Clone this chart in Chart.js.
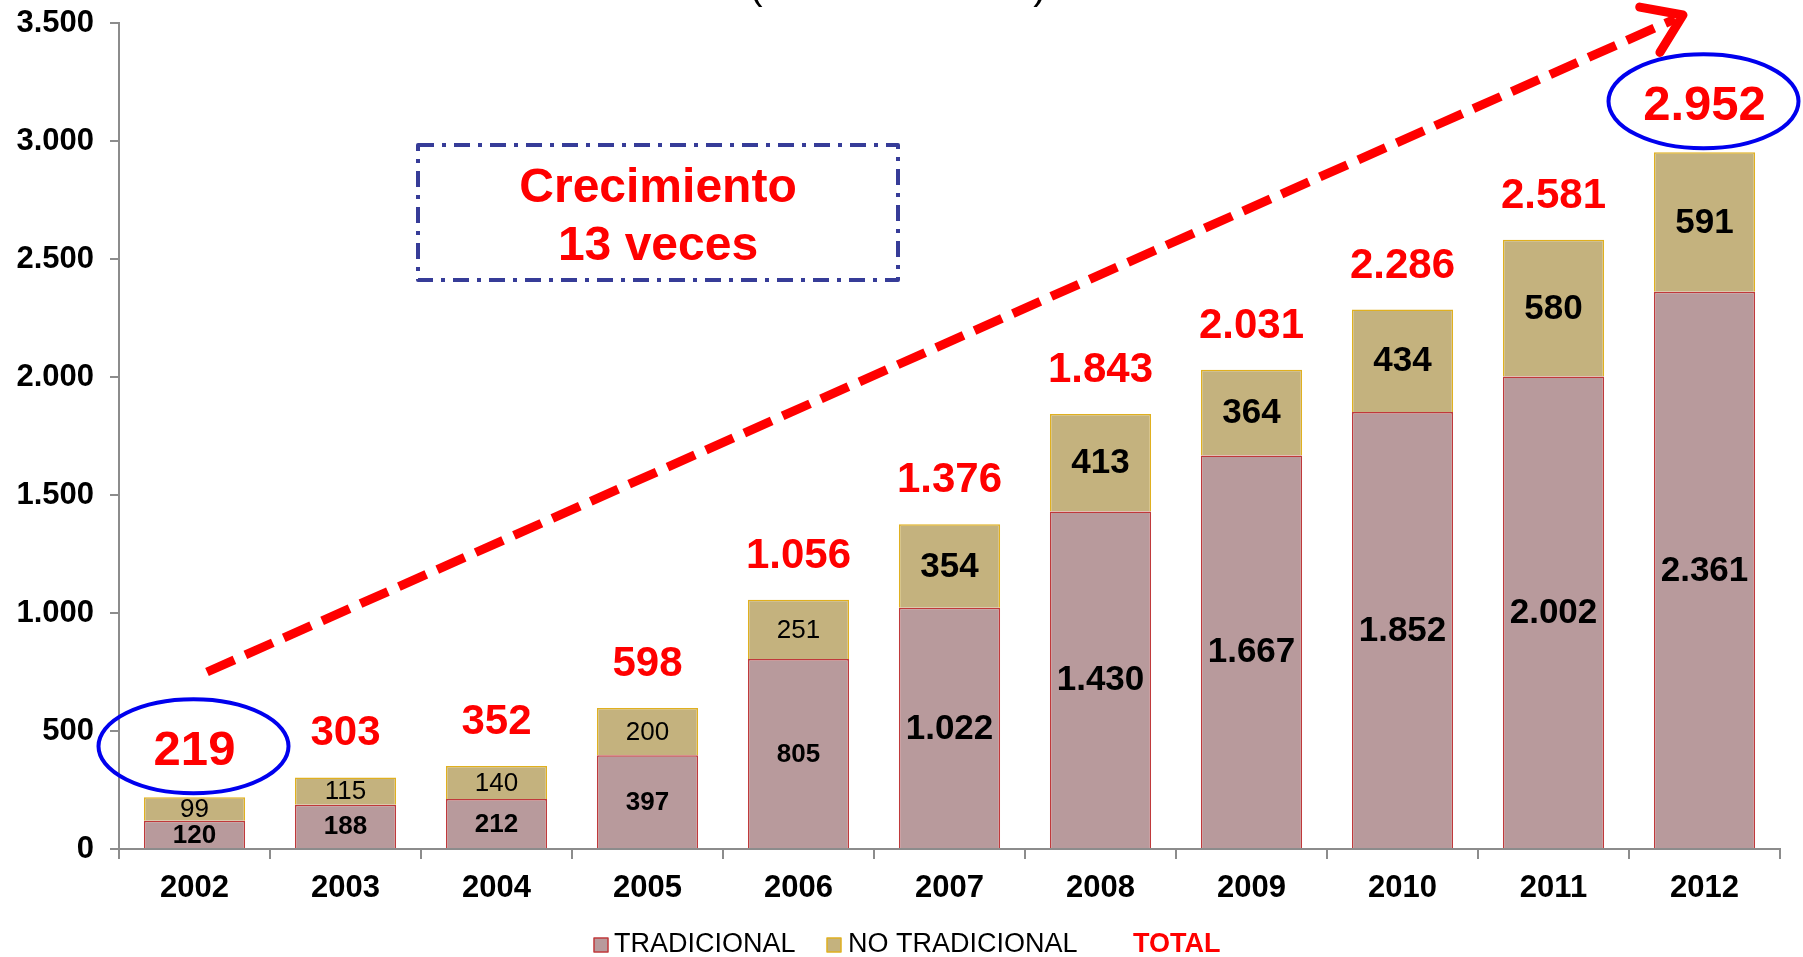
<!DOCTYPE html>
<html><head><meta charset="utf-8">
<script src="https://cdn.jsdelivr.net/npm/chart.js@4/dist/chart.umd.min.js"></script>
<style>html,body{margin:0;padding:0;background:#fff;}#wrap{width:1803px;height:957px;}</style>
</head><body><div id="wrap"><canvas id="c" width="1803" height="957"></canvas></div>
<script>
const years = ['2002','2003','2004','2005','2006','2007','2008','2009','2010','2011','2012'];
const tradicional = [120,188,212,397,805,1022,1430,1667,1852,2002,2361];
const noTradicional = [99,115,140,200,251,354,413,364,434,580,591];
const totals = [219,303,352,598,1056,1376,1843,2031,2286,2581,2952];
const yTicks = [0,500,1000,1500,2000,2500,3000,3500];
const seriesNames = ['TRADICIONAL','NO TRADICIONAL','TOTAL'];
const highlighted = [0,10];
const noteLines = ['Crecimiento','13 veces'];

const FONT = '"Liberation Sans", Arial, sans-serif';
const fmt = n => String(n).replace(/\B(?=(\d{3})+(?!\d))/g, '.');
const C_TRAD = '#B89A9C', C_TRAD_B = '#C0393B';
const C_NT = '#C4B27E', C_NT_B = '#E0B020';
const AXIS = '#8c8c8c';

const overlay = {
  id: 'overlay',
  afterDatasetsDraw(chart) {
    const ctx = chart.ctx;
    const xs = chart.scales.x, ys = chart.scales.y;
    ctx.save();
    // inner labels
    [0,1].forEach(d => {
      const meta = chart.getDatasetMeta(d);
      const vals = d === 0 ? tradicional : noTradicional;
      meta.data.forEach((el, i) => {
        const small = i < 5;
        const weight = (small && d === 1) ? 'normal' : 'bold';
        const size = small ? 26 : 35;
        ctx.font = weight + ' ' + size + 'px ' + FONT;
        ctx.fillStyle = '#000';
        ctx.textAlign = 'center';
        ctx.textBaseline = 'middle';
        ctx.fillText(fmt(vals[i]), el.x, (el.y + el.base) / 2 + 1);
      });
    });
    // totals
    totals.forEach((t, i) => {
      const hl = highlighted.includes(i);
      const x = xs.getPixelForValue(i);
      const y = ys.getPixelForValue(t) - 32;
      ctx.font = 'bold ' + (hl ? 49 : 42) + 'px ' + FONT;
      ctx.fillStyle = '#FF0000';
      ctx.textAlign = 'center';
      ctx.textBaseline = 'alphabetic';
      ctx.fillText(fmt(t), x, y);
      if (hl) {
        ctx.beginPath();
        ctx.ellipse(x - 1, y - 19, 95, 47, 0, 0, Math.PI * 2);
        ctx.strokeStyle = '#0000EE';
        ctx.lineWidth = 4;
        ctx.setLineDash([]);
        ctx.stroke();
      }
    });
    // dashed arrow
    const x0 = 207, y0 = 672, x1 = 1683, y1 = 15;
    ctx.strokeStyle = '#FF0000';
    ctx.lineWidth = 9;
    ctx.lineCap = 'butt';
    ctx.setLineDash([30, 12]);
    ctx.beginPath();
    ctx.moveTo(x0, y0);
    ctx.lineTo(x1 - 8, y1 + 4);
    ctx.stroke();
    ctx.setLineDash([]);
    const ang = Math.atan2(y1 - y0, x1 - x0);
    const L = 44;
    ctx.lineCap = 'round';
    ctx.lineJoin = 'round';
    ctx.beginPath();
    ctx.moveTo(x1 - L * Math.cos(ang - 0.6), y1 - L * Math.sin(ang - 0.6));
    ctx.lineTo(x1, y1);
    ctx.lineTo(x1 - L * Math.cos(ang + 0.6), y1 - L * Math.sin(ang + 0.6));
    ctx.stroke();
    // note box
    ctx.lineCap = 'butt';
    ctx.strokeStyle = '#363C98';
    ctx.lineWidth = 4;
    ctx.setLineDash([16, 8, 4, 8]);
    ctx.strokeRect(418, 145, 480, 135);
    ctx.setLineDash([]);
    ctx.font = 'bold 48px ' + FONT;
    ctx.fillStyle = '#FF0000';
    ctx.textAlign = 'center';
    ctx.textBaseline = 'alphabetic';
    ctx.fillText(noteLines[0], 658, 202);
    ctx.fillText(noteLines[1], 658, 260);
    // legend
    ctx.textBaseline = 'middle';
    ctx.textAlign = 'left';
    const ly = 945;
    const legendItems = [
      {x: 594, fill: C_TRAD, border: C_TRAD_B, tx: 614},
      {x: 827, fill: C_NT, border: C_NT_B, tx: 848},
      {x: null, tx: 1133}
    ];
    legendItems.forEach((it, k) => {
      if (it.x !== null) {
        ctx.fillStyle = it.fill;
        ctx.fillRect(it.x, ly - 7, 14, 14);
        ctx.strokeStyle = it.border;
        ctx.lineWidth = 1.5;
        ctx.strokeRect(it.x, ly - 7, 14, 14);
        ctx.font = 'normal 27px ' + FONT;
        ctx.fillStyle = '#000';
      } else {
        ctx.font = 'bold 27px ' + FONT;
        ctx.fillStyle = '#FF0000';
      }
      ctx.fillText(seriesNames[k], it.tx, ly);
    });
    // clipped title parentheses
    ctx.font = 'normal 40px ' + FONT;
    ctx.fillStyle = '#000';
    ctx.textAlign = 'center';
    ctx.textBaseline = 'alphabetic';
    ctx.fillText('(', 756, -1);
    ctx.fillText(')', 1040, -1);
    ctx.restore();
  }
};

new Chart(document.getElementById('c'), {
  type: 'bar',
  data: {
    labels: years,
    datasets: [
      {label: seriesNames[0], data: tradicional, backgroundColor: C_TRAD, borderColor: C_TRAD_B, borderWidth: 1.5, borderSkipped: 'start', barPercentage: 0.67, categoryPercentage: 1},
      {label: seriesNames[1], data: noTradicional, backgroundColor: C_NT, borderColor: C_NT_B, borderWidth: 1.5, borderSkipped: 'start', barPercentage: 0.67, categoryPercentage: 1}
    ]
  },
  options: {
    responsive: false,
    animation: false,
    devicePixelRatio: 1,
    layout: {padding: {top: 23, right: 23, left: 0, bottom: 0}},
    plugins: {legend: {display: false}, tooltip: {enabled: false}},
    scales: {
      x: {
        stacked: true,
        grid: {display: true, drawOnChartArea: false, drawTicks: true, tickLength: 10, color: AXIS, lineWidth: 2, offset: true},
        border: {display: true, color: AXIS, width: 2},
        ticks: {font: {family: FONT, size: 31, weight: 'bold'}, color: '#000', padding: 11, maxRotation: 0},
        afterFit: s => { s.height = 108; s.paddingLeft = 0; s.paddingRight = 0; }
      },
      y: {
        stacked: true, min: 0, max: 3500,
        afterBuildTicks: s => { s.ticks = yTicks.map(v => ({value: v})); },
        ticks: {callback: v => fmt(v), font: {family: FONT, size: 31, weight: 'bold'}, color: '#000', padding: 16},
        grid: {display: true, drawOnChartArea: false, drawTicks: true, tickLength: 9, color: AXIS, lineWidth: 2},
        border: {display: true, color: AXIS, width: 2},
        afterFit: s => { s.width = 119; s.paddingTop = 0; s.paddingBottom = 0; }
      }
    }
  },
  plugins: [overlay]
});
</script></body></html>
